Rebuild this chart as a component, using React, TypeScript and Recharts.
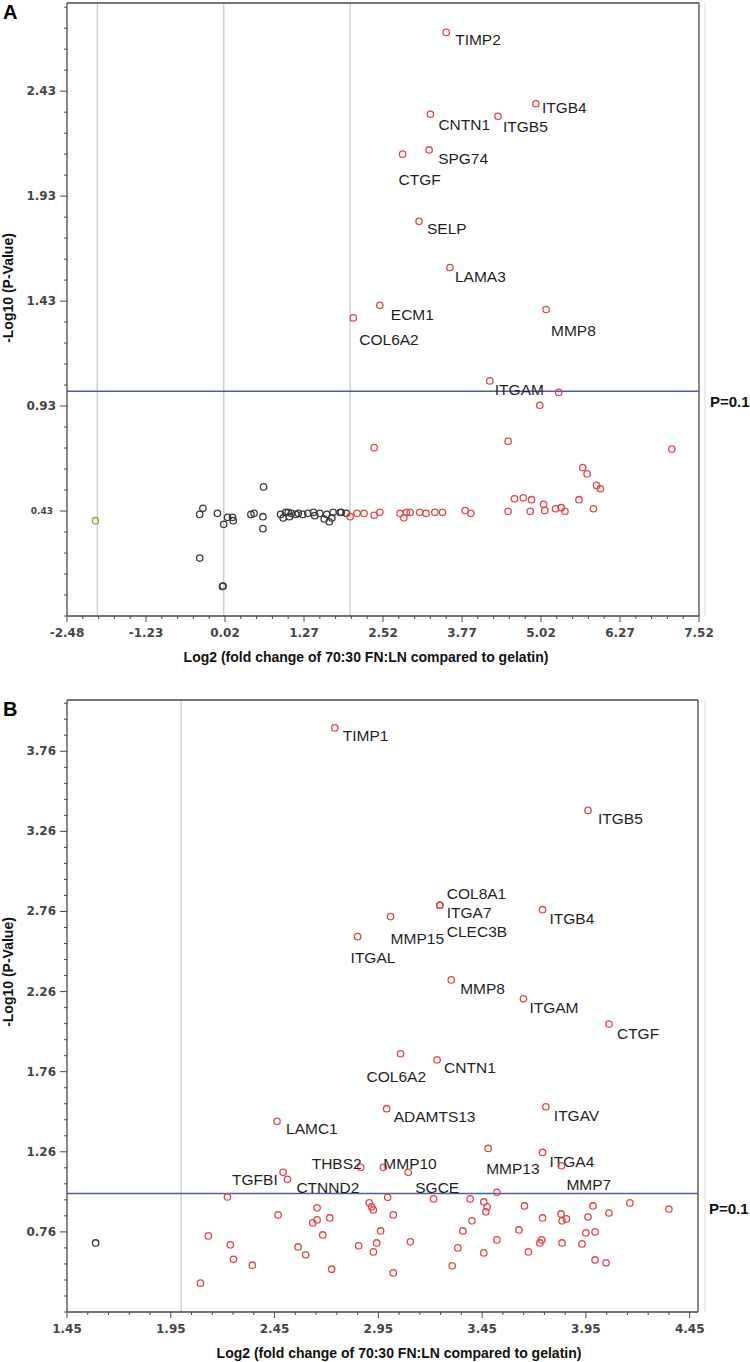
import React from "react";
import { ScatterChart, Scatter, XAxis, YAxis, ReferenceLine } from "recharts";

// ---------- panel A : 70:30 FN:LN vs gelatin ----------
const aGenes = ["TIMP2", "ITGB4", "CNTN1", "ITGB5", "SPG74", "CTGF", "SELP", "LAMA3", "ECM1", "COL6A2", "MMP8", "ITGAM"];
const aGeneFc = [3.52, 4.94, 3.27, 4.34, 3.25, 2.83, 3.09, 3.58, 2.47, 2.05, 5.1, 4.21];
const aGeneP = [2.71, 2.37, 2.32, 2.31, 2.15, 2.13, 1.81, 1.59, 1.41, 1.35, 1.39, 1.05];

// up-regulated, not labelled
const aUpFc = [5.3, 5.0, 2.38, 4.5, 7.09, 5.68, 5.75, 5.9, 5.96, 4.6, 4.74, 4.87, 5.62, 5.06, 5.85,
  2.0, 2.11, 2.22, 2.38, 2.47, 2.79, 2.85, 2.89, 2.95, 3.1, 3.2, 3.34, 3.46, 3.82, 3.91, 4.5, 4.85, 5.08, 5.25, 5.34, 5.4];
const aUpP = [0.995, 0.934, 0.732, 0.763, 0.725, 0.637, 0.607, 0.552, 0.536, 0.488, 0.493, 0.484, 0.484, 0.462, 0.441,
  0.403, 0.419, 0.419, 0.41, 0.424, 0.419, 0.398, 0.424, 0.424, 0.424, 0.419, 0.424, 0.424, 0.432, 0.419, 0.429, 0.429, 0.433, 0.441, 0.446, 0.429];

// unchanged
const aFlatFc = [-0.38, -0.33, -0.1, 0.0, 0.06, 0.14, 0.15, 0.43, 0.48, 0.62, 0.63, 0.62, -0.38, -0.02, -0.01,
  0.9, 0.94, 0.98, 1.02, 1.04, 1.07, 1.14, 1.18, 1.25, 1.33, 1.42, 1.44, 1.52, 1.59, 1.63, 1.67, 1.71, 1.73, 1.84, 1.86, 1.94];
const aFlatP = [0.414, 0.443, 0.419, 0.367, 0.4, 0.4, 0.384, 0.414, 0.419, 0.403, 0.545, 0.346, 0.206, 0.071, 0.073,
  0.414, 0.397, 0.424, 0.424, 0.403, 0.419, 0.414, 0.419, 0.414, 0.419, 0.424, 0.408, 0.419, 0.392, 0.414, 0.379, 0.397, 0.424, 0.424, 0.424, 0.419];

// down-regulated
const aDownFc = [-2.03];
const aDownP = [0.384];

const aXTicks = [-2.48, -1.23, 0.02, 1.27, 2.52, 3.77, 5.02, 6.27, 7.52];
const aYTicks = [0.43, 0.93, 1.43, 1.93, 2.43];
const aFoldLines = [-2, 0, 2];

// ---------- panel B ----------
const bGenes = ["TIMP1", "ITGB5", "COL8A1", "ITGA7", "CLEC3B", "MMP15", "ITGAL", "ITGB4", "MMP8", "ITGAM", "CTGF", "COL6A2",
  "CNTN1", "ADAMTS13", "ITGAV", "LAMC1", "THBS2", "TGFBI", "CTNND2", "MMP10", "SGCE", "MMP13", "ITGA4", "MMP7"];
const bGeneFc = [2.74, 3.96, 3.246, 3.246, 3.246, 3.009, 2.85, 3.741, 3.301, 3.649, 4.061, 3.057,
  3.233, 2.99, 3.757, 2.462, 2.865, 2.491, 2.512, 2.974, 3.094, 3.479, 3.741, 3.832];
const bGeneP = [3.906, 3.391, 2.799, 2.799, 2.799, 2.728, 2.603, 2.771, 2.333, 2.215, 2.057, 1.872,
  1.834, 1.529, 1.541, 1.45, 1.163, 1.132, 1.088, 1.163, 1.132, 1.281, 1.256, 1.173];

const bUpFc = [3.521, 2.995, 3.216, 3.392, 3.458, 3.474, 3.468, 3.654, 4.162, 4.35, 3.984, 4.061, 3.96, 3.83, 3.835, 3.856,
  3.741, 3.022, 2.926, 2.918, 2.906, 3.401, 3.357, 2.961, 3.627, 3.95, 3.994, 2.855, 2.942, 2.926, 3.104, 3.333, 3.458,
  3.521, 3.673, 3.728, 3.737, 3.835, 3.931, 3.994, 4.047, 3.306, 3.022,
  2.223, 2.467, 2.655, 2.655, 2.634, 2.716, 2.682, 2.131, 2.237, 2.252, 2.343, 2.563, 2.6, 2.725, 2.093];
const bUpP = [1.007, 0.976, 0.966, 0.966, 0.947, 0.916, 0.885, 0.922, 0.941, 0.903, 0.922, 0.878, 0.853, 0.872, 0.829, 0.841,
  0.847, 0.866, 0.897, 0.916, 0.941, 0.829, 0.766, 0.766, 0.772, 0.754, 0.76, 0.673, 0.691, 0.635, 0.698, 0.66, 0.629,
  0.71, 0.635, 0.691, 0.71, 0.691, 0.685, 0.585, 0.567, 0.548, 0.504,
  0.978, 0.866, 0.91, 0.835, 0.816, 0.847, 0.741, 0.735, 0.679, 0.589, 0.552, 0.666, 0.617, 0.527, 0.44];

const bFlatFc = [1.588];
const bFlatP = [0.691];

const bXTicks = [1.45, 1.95, 2.45, 2.95, 3.45, 3.95, 4.45];
const bYTicks = [0.76, 1.26, 1.76, 2.26, 2.76, 3.26, 3.76];
const bFoldLines = [2];

// label placement (text start / baseline relative to the dot)
const aLabelAt: Record<string, [number, number]> = {
  TIMP2: [9, 13], ITGB4: [6, 9], CNTN1: [8, 16], ITGB5: [5, 16], SPG74: [9, 14], CTGF: [-4, 31],
  SELP: [8, 13], LAMA3: [5, 14], ECM1: [11, 15], COL6A2: [6, 27], MMP8: [5, 26], ITGAM: [5, 14],
};
const bLabelAt: Record<string, [number, number]> = {
  TIMP1: [8, 13], ITGB5: [10, 14], COL8A1: [7, -6], ITGA7: [7, 13], CLEC3B: [7, 32], MMP15: [0, 27],
  ITGAL: [-7, 26], ITGB4: [7, 14], MMP8: [9, 14], ITGAM: [6, 14], CTGF: [8, 15], COL6A2: [-34, 28],
  CNTN1: [7, 13], ADAMTS13: [7, 13], ITGAV: [8, 14], LAMC1: [9, 13], THBS2: [-49, 2], TGFBI: [-51, 13],
  CTNND2: [9, 14], MMP10: [0, 2], SGCE: [7, 21], MMP13: [-2, 26], ITGA4: [7, 15], MMP7: [5, 24],
};

const RED = "#e0474c";
const BLACK = "#3a3a3a";
const GREEN = "#7cb342";
const AXIS = "#4a4a4a";
const BLUE = "#4f5e9e";
const FONT = "Liberation Sans, Arial, sans-serif";

const pts = (fc: number[], p: number[], genes?: string[]) =>
  fc.map((x, i) => ({ x, y: p[i], gene: genes ? genes[i] : undefined }));

// minor ticks on the same grid as the majors
function withMinor(majors: number[], step: number, lo: number, hi: number) {
  const out: number[] = [];
  const n0 = Math.ceil((lo - majors[0]) / step - 1e-6);
  for (let k = n0; majors[0] + k * step <= hi + 1e-6; k++) out.push(Math.round((majors[0] + k * step) * 1000) / 1000);
  return out;
}

const isIn = (list: number[], v: number) => list.some((m) => Math.abs(m - v) < 1e-6);

const dot = (colour: string, labelAt?: Record<string, [number, number]>) => (props: any) => {
  const { cx, cy, payload } = props;
  const off = payload.gene && labelAt ? labelAt[payload.gene] : null;
  return (
    <g>
      <circle cx={cx} cy={cy} r={3.2} fill="none" stroke={colour} strokeWidth={1.3} />
      {off && (
        <text x={cx + off[0]} y={cy + off[1]} fontFamily={FONT} fontSize={15.5} fill="#1f1f1f">
          {payload.gene}
        </text>
      )}
    </g>
  );
};

const yTick = (majors: number[], small: number[]) => (props: any) => {
  const { x, y, payload } = props;
  const v = payload.value;
  const major = isIn(majors, v);
  const tiny = isIn(small, v);
  return (
    <g>
      <line x1={x - (major ? 7 : 3)} x2={x} y1={y} y2={y} stroke={AXIS} />
      {major && (
        <text x={x - (tiny ? 14 : 11)} y={y + (tiny ? 3 : 4)} textAnchor="end" fontFamily="DejaVu Sans, sans-serif"
          fontWeight="bold" fontSize={tiny ? 9 : 12} fill="#454545">
          {v.toFixed(2)}
        </text>
      )}
    </g>
  );
};

const xTick = (majors: number[]) => (props: any) => {
  const { x, y, payload } = props;
  const v = payload.value;
  const major = isIn(majors, v);
  return (
    <g>
      <line x1={x} x2={x} y1={y} y2={y + (major ? 6 : 3)} stroke={AXIS} />
      {major && (
        <text x={x} y={y + 21} textAnchor="middle" fontFamily="DejaVu Sans, sans-serif" fontWeight="bold" fontSize={12} fill="#454545">
          {v.toFixed(2)}
        </text>
      )}
    </g>
  );
};

const pLabel = (dy: number) => (props: any) => {
  const vb = props.viewBox;
  return (
    <text x={vb.x + vb.width + 11} y={vb.y + dy} fontFamily={FONT} fontWeight="bold" fontSize={15} fill="#111">
      P=0.1
    </text>
  );
};

type PanelProps = {
  letter: string;
  top: number;
  height: number;
  marginTop: number;
  marginRight: number;
  xDomain: [number, number];
  yDomain: [number, number];
  xMajor: number[];
  xStep: number;
  yMajor: number[];
  smallY: number[];
  foldLines: number[];
  groups: { data: any[]; colour: string; labels?: Record<string, [number, number]> }[];
  pDy: number;
  xTitleCx: number;
  yTitleCy: number;
};

function Panel(p: PanelProps) {
  const plotTop = p.top + p.marginTop;
  const plotBottom = p.top + p.height - 24;
  const xTicks = withMinor(p.xMajor, p.xStep, p.xDomain[0], p.xDomain[1]);
  const yTicks = withMinor(p.yMajor, 0.1, p.yDomain[0], p.yDomain[1]);
  return (
    <>
      <div style={{ position: "absolute", left: 3, top: plotTop - 1, fontFamily: FONT, fontWeight: "bold", fontSize: 20, lineHeight: "20px" }}>
        {p.letter}
      </div>
      <div style={{ position: "absolute", left: 704, top: plotTop, width: 2, height: plotBottom - plotTop, background: "#eeeeee" }} />
      <div style={{ position: "absolute", left: 0, top: p.top, width: 750, height: p.height }}>
        <ScatterChart width={750} height={p.height} margin={{ top: p.marginTop, right: p.marginRight, bottom: 0, left: 7 }}>
          <XAxis type="number" dataKey="x" domain={p.xDomain} allowDataOverflow ticks={xTicks} interval={0}
            tick={xTick(p.xMajor)} tickLine={false} tickSize={0} tickMargin={0} height={24} stroke={AXIS} strokeWidth={1.3} />
          <YAxis type="number" dataKey="y" domain={p.yDomain} allowDataOverflow ticks={yTicks} interval={0}
            tick={yTick(p.yMajor, p.smallY)} tickLine={false} tickSize={0} tickMargin={0} width={60} stroke={AXIS} strokeWidth={1.3} />
          {p.foldLines.map((v) => (
            <ReferenceLine key={v} x={v} stroke="#cdcdcd" strokeWidth={1.4} />
          ))}
          <ReferenceLine y={p.yDomain[1]} stroke={AXIS} strokeWidth={1.3} />
          <ReferenceLine x={p.xDomain[1]} stroke={AXIS} strokeWidth={1.3} />
          {p.groups.map((g, i) => (
            <Scatter key={i} data={g.data} isAnimationActive={false} shape={dot(g.colour, g.labels)} />
          ))}
          <ReferenceLine y={1} stroke={BLUE} strokeWidth={1.5} label={pLabel(p.pDy)} />
        </ScatterChart>
      </div>
      <div style={{ position: "absolute", left: -72, top: p.yTitleCy - 10, width: 160, height: 20, lineHeight: "20px", textAlign: "center",
        transform: "rotate(-90deg)", fontFamily: FONT, fontWeight: "bold", fontSize: 14, whiteSpace: "nowrap", color: "#111" }}>
        -Log10 (P-Value)
      </div>
      <div style={{ position: "absolute", left: p.xTitleCx - 250, top: plotBottom + 32, width: 500, lineHeight: "18px", textAlign: "center",
        fontFamily: FONT, fontWeight: "bold", fontSize: 14, whiteSpace: "nowrap", color: "#111" }}>
        Log2 (fold change of 70:30 FN:LN compared to gelatin)
      </div>
    </>
  );
}

export default function App() {
  return (
    <div style={{ position: "absolute", left: 0, top: 0, width: 750, height: 1362, background: "#fff" }}>
      <Panel
        letter="A" top={0} height={640} marginTop={3} marginRight={51}
        xDomain={[-2.48, 7.52]} yDomain={[-0.07, 2.85]} xMajor={aXTicks} xStep={0.25} yMajor={aYTicks} smallY={[0.43]}
        foldLines={aFoldLines} pDy={16} xTitleCx={366} yTitleCy={288}
        groups={[
          { data: pts(aFlatFc, aFlatP), colour: BLACK },
          { data: pts(aDownFc, aDownP), colour: GREEN },
          { data: pts(aUpFc, aUpP), colour: RED },
          { data: pts(aGeneFc, aGeneP, aGenes), colour: RED, labels: aLabelAt },
        ]}
      />
      <Panel
        letter="B" top={690} height={646} marginTop={10} marginRight={52}
        xDomain={[1.45, 4.49]} yDomain={[0.26, 4.08]} xMajor={bXTicks} xStep={0.1} yMajor={bYTicks} smallY={[]}
        foldLines={bFoldLines} pDy={21} xTitleCx={399} yTitleCy={972}
        groups={[
          { data: pts(bFlatFc, bFlatP), colour: BLACK },
          { data: pts(bUpFc, bUpP), colour: RED },
          { data: pts(bGeneFc, bGeneP, bGenes), colour: RED, labels: bLabelAt },
        ]}
      />
    </div>
  );
}
